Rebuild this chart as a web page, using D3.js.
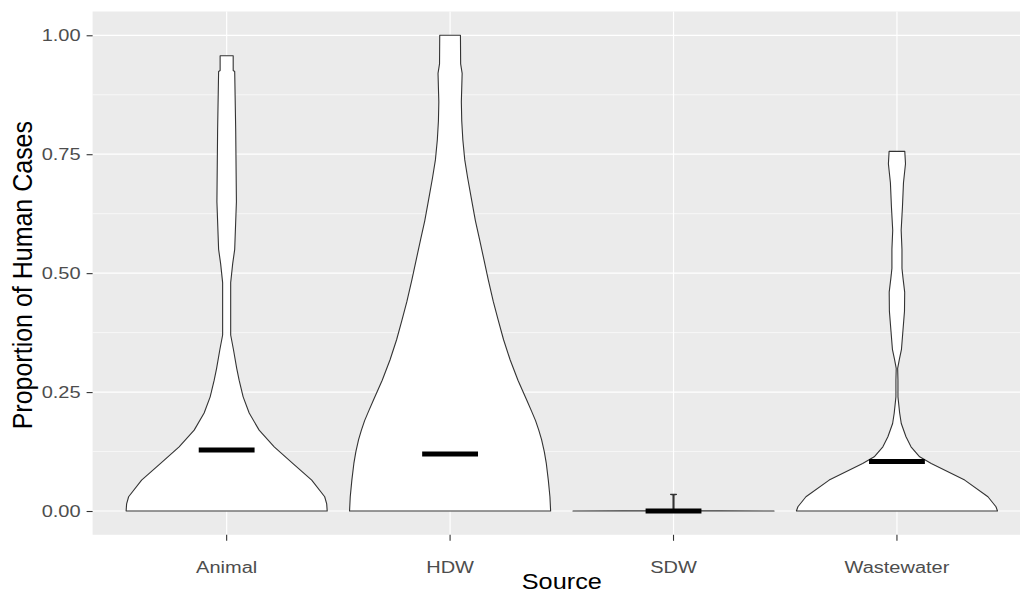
<!DOCTYPE html>
<html>
<head>
<meta charset="utf-8">
<script src="https://cdn.jsdelivr.net/npm/d3@7"></script>
<style>
  body { margin: 0; background: #fff; }
  svg text { font-family: "Liberation Sans", Arial, sans-serif; }
</style>
</head>
<body>
<div id="chart"></div>
<script>
// categories and summary values
let categories = ["Animal", "HDW", "SDW", "Wastewater"];
let medians = [0.128, 0.120, 0.0, 0.104];
let yTicks = [0, 0.25, 0.5, 0.75, 1];
let yMinor = [0.125, 0.375, 0.625, 0.875];

// violin outlines: value along y and relative half-width (1 = widest)
let animalY = [0, 0.015, 0.03, 0.065, 0.10, 0.135, 0.17, 0.206, 0.24, 0.275, 0.30, 0.34, 0.37, 0.48, 0.52, 0.55, 0.65, 0.80, 0.924, 0.926, 0.957];
let animalW = [1, 0.995, 0.975, 0.846, 0.657, 0.473, 0.323, 0.224, 0.164, 0.124, 0.10, 0.067, 0.04, 0.04, 0.06, 0.08, 0.097, 0.09, 0.08, 0.065, 0.065];

let hdwY = [0, 0.03, 0.065, 0.10, 0.125, 0.15, 0.17, 0.19, 0.21, 0.233, 0.275, 0.318, 0.36, 0.40, 0.44, 0.486, 0.53, 0.57, 0.61, 0.654, 0.70, 0.738, 0.78, 0.82, 0.86, 0.92, 0.94, 1.0];
let hdwW = [1, 0.993, 0.977, 0.957, 0.937, 0.91, 0.882, 0.85, 0.81, 0.763, 0.675, 0.597, 0.532, 0.48, 0.43, 0.38, 0.335, 0.294, 0.252, 0.214, 0.175, 0.146, 0.127, 0.116, 0.112, 0.12, 0.105, 0.103];

let sdwY = [0, 0.001, 0.034, 0.035];
let sdwW = [1, 0.005, 0.005, 0.03];

let wasteY = [0, 0.009, 0.03, 0.065, 0.10, 0.114, 0.135, 0.156, 0.184, 0.206, 0.24, 0.275, 0.30, 0.32, 0.34, 0.38, 0.42, 0.46, 0.49, 0.51, 0.55, 0.59, 0.64, 0.69, 0.73, 0.756];
let wasteW = [1, 0.985, 0.905, 0.674, 0.341, 0.226, 0.14, 0.09, 0.043, 0.027, 0.01, 0.01, 0.007, 0.025, 0.045, 0.06, 0.075, 0.077, 0.06, 0.05, 0.05, 0.042, 0.055, 0.065, 0.085, 0.078];

let violinY = [animalY, hdwY, sdwY, wasteY];
let violinW = [animalW, hdwW, sdwW, wasteW];

let svgWidth = 1020;
let svgHeight = 595;

// panel box (ggplot style, right edge runs past the picture)
let panel = { left: 92.6, right: 1031, top: 11.5, bottom: 534.8 };

let svg = d3.select("#chart")
  .append("svg")
  .attr("width", svgWidth)
  .attr("height", svgHeight);

let x = d3.scaleBand()
  .domain(categories)
  .range([panel.left, panel.right])
  .paddingInner(0)
  .paddingOuter(0.1);

let y = d3.scaleLinear()
  .domain([-0.05, 1.05])
  .range([panel.bottom, panel.top]);

let step = x.step();
let halfMax = 0.45 * step;

// background
svg.append("rect")
  .attr("x", panel.left)
  .attr("y", panel.top)
  .attr("width", panel.right - panel.left)
  .attr("height", panel.bottom - panel.top)
  .attr("fill", "#EBEBEB");

// grid lines
svg.append("g").selectAll("line")
  .data(yMinor)
  .join("line")
  .attr("x1", panel.left).attr("x2", panel.right)
  .attr("y1", d => y(d)).attr("y2", d => y(d))
  .attr("stroke", "#fff").attr("stroke-width", 0.6);

svg.append("g").selectAll("line")
  .data(yTicks)
  .join("line")
  .attr("x1", panel.left).attr("x2", panel.right)
  .attr("y1", d => y(d)).attr("y2", d => y(d))
  .attr("stroke", "#fff").attr("stroke-width", 1.2);

svg.append("g").selectAll("line")
  .data(categories)
  .join("line")
  .attr("x1", d => x(d) + step / 2).attr("x2", d => x(d) + step / 2)
  .attr("y1", panel.top).attr("y2", panel.bottom)
  .attr("stroke", "#fff").attr("stroke-width", 1.2);

// violins
categories.forEach(function(cat, i) {
  let cx = x(cat) + step / 2;
  let pts = violinY[i].map((v, j) => ({ v: v, w: violinW[i][j] }));
  let area = d3.area()
    .y(d => y(d.v))
    .x0(d => cx - d.w * halfMax)
    .x1(d => cx + d.w * halfMax);
  svg.append("path")
    .attr("d", area(pts))
    .attr("fill", "#fff")
    .attr("stroke", "#333")
    .attr("stroke-width", 1.1)
    .attr("stroke-linejoin", "round");
});

// median bars
svg.append("g").selectAll("line")
  .data(categories)
  .join("line")
  .attr("x1", d => x(d) + step / 2 - 0.125 * step)
  .attr("x2", d => x(d) + step / 2 + 0.125 * step)
  .attr("y1", (d, i) => y(medians[i]))
  .attr("y2", (d, i) => y(medians[i]))
  .attr("stroke", "#000")
  .attr("stroke-width", 5);

// axes
let leftAxis = d3.axisLeft(y)
  .tickValues(yTicks)
  .tickFormat(d3.format(".2f"))
  .tickSize(6)
  .tickPadding(6);

let bottomAxis = d3.axisBottom(x)
  .tickSize(6)
  .tickPadding(6);

let gy = svg.append("g")
  .attr("transform", `translate(${panel.left}, 0)`)
  .call(leftAxis);

let gx = svg.append("g")
  .attr("transform", `translate(0, ${panel.bottom})`)
  .call(bottomAxis);

[gx, gy].forEach(function(g) {
  g.select(".domain").remove();
  g.selectAll(".tick line").attr("stroke", "#333").attr("stroke-width", 1.1);
  g.selectAll(".tick text")
    .attr("fill", "#4D4D4D")
    .style("font-size", "16px");
});

// slightly wide glyphs, as in the picture
gy.selectAll(".tick text")
  .attr("x", null)
  .attr("transform", "translate(-12,0) scale(1.25,1)")
  .attr("text-anchor", "end");

gx.selectAll(".tick text")
  .attr("y", null)
  .attr("dy", null)
  .attr("transform", "translate(0,38) scale(1.25,1)");

// axis titles
svg.append("text")
  .attr("transform", `translate(${(panel.left + panel.right) / 2}, 589) scale(1.15,1)`)
  .attr("text-anchor", "middle")
  .attr("fill", "#000")
  .style("font-size", "22px")
  .text("Source");

svg.append("text")
  .attr("transform", `translate(32, ${(panel.top + panel.bottom) / 2 + 2}) scale(1.1,1) rotate(-90)`)
  .attr("text-anchor", "middle")
  .attr("fill", "#000")
  .style("font-size", "25px")
  .text("Proportion of Human Cases");
</script>
</body>
</html>
